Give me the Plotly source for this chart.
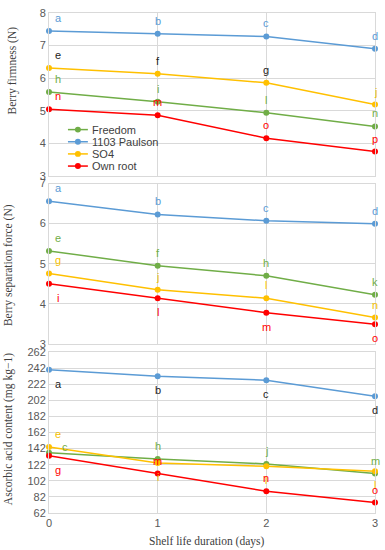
import plotly.graph_objects as go
from plotly.subplots import make_subplots

# ---------------- data ----------------
days = [0, 1, 2, 3]
series_names = ["Freedom", "1103 Paulson", "SO4", "Own root"]

# Panel 1: Berry firmness (N)
firm_freedom = [5.58, 5.28, 4.94, 4.52]
firm_paulson = [7.45, 7.36, 7.28, 6.90]
firm_so4 = [6.31, 6.14, 5.86, 5.19]
firm_own = [5.05, 4.86, 4.16, 3.75]
firm_lbl_freedom = ["h", "i", "l", "n"]
firm_lbl_paulson = ["a", "b", "c", "d"]
firm_lbl_so4 = ["e", "f", "g", "j"]
firm_lbl_own = ["n", "m", "o", "p"]

# Panel 2: Berry separation force (N)
sep_freedom = [5.32, 4.95, 4.70, 4.23]
sep_paulson = [6.56, 6.23, 6.07, 6.00]
sep_so4 = [4.76, 4.35, 4.14, 3.66]
sep_own = [4.50, 4.14, 3.78, 3.49]
sep_lbl_freedom = ["e", "f", "h", "k"]
sep_lbl_paulson = ["a", "b", "c", "d"]
sep_lbl_so4 = ["g", "j", "l", "n"]
sep_lbl_own = ["i", "l", "m", "o"]

# Panel 3: Ascorbic acid content (mg kg-1)
asc_freedom = [137, 129, 123, 111]
asc_paulson = [240, 232, 227, 207]
asc_so4 = [144, 124, 120, 114]
asc_own = [133, 111, 89, 75]
asc_lbl_freedom = ["c", "h", "j", "m"]
asc_lbl_paulson = ["a", "b", "c", "d"]
asc_lbl_so4 = ["e", "i", "l", "l"]
asc_lbl_own = ["g", "m", "n", "o"]

x_ticks = [0, 1, 2, 3]
firm_ticks = [3, 4, 5, 6, 7, 8]
sep_ticks = [3, 4, 5, 6, 7]
asc_ticks = [62, 82, 102, 122, 142, 162, 182, 202, 222, 242, 262]

# ---------------- style ----------------
COL = {"Freedom": "#70AD47", "1103 Paulson": "#5B9BD5", "SO4": "#FFC000", "Own root": "#FF0000"}
LABEL_COL = {"Freedom": "#70AD47", "1103 Paulson": "#5B9BD5", "SO4": "#F5C000", "Own root": "#FF0000"}
SANS = "Liberation Sans"
SERIF = "Liberation Serif"
GRID = "#D9D9D9"

panels = [
    {
        "vals": {"Freedom": firm_freedom, "1103 Paulson": firm_paulson, "SO4": firm_so4, "Own root": firm_own},
        "lbls": {"Freedom": firm_lbl_freedom, "1103 Paulson": firm_lbl_paulson, "SO4": firm_lbl_so4, "Own root": firm_lbl_own},
        "pos": {"Freedom": ["u", "u", "u", "u"], "1103 Paulson": ["u", "u", "u", "u"],
                "SO4": ["u", "u", "u", "u"], "Own root": ["u", "u", "u", "u"]},
        "colors": {"SO4": ["#222222", "#222222", "#222222", LABEL_COL["SO4"]]},
        "range": [3, 8], "ticks": firm_ticks,
    },
    {
        "vals": {"Freedom": sep_freedom, "1103 Paulson": sep_paulson, "SO4": sep_so4, "Own root": sep_own},
        "lbls": {"Freedom": sep_lbl_freedom, "1103 Paulson": sep_lbl_paulson, "SO4": sep_lbl_so4, "Own root": sep_lbl_own},
        "pos": {"Freedom": ["u", "u", "u", "u"], "1103 Paulson": ["u", "u", "u", "u"],
                "SO4": ["u", "u", "u", "u"], "Own root": ["d", "d", "d", "d"]},
        "colors": {},
        "range": [3, 7], "ticks": sep_ticks,
    },
    {
        "vals": {"Freedom": asc_freedom, "1103 Paulson": asc_paulson, "SO4": asc_so4, "Own root": asc_own},
        "lbls": {"Freedom": asc_lbl_freedom, "1103 Paulson": asc_lbl_paulson, "SO4": asc_lbl_so4, "Own root": asc_lbl_own},
        "pos": {"Freedom": ["s", "u", "u", "u"], "1103 Paulson": ["d", "d", "d", "d"],
                "SO4": ["u", "d", "d", "d"], "Own root": ["d", "u", "u", "u"]},
        "colors": {"1103 Paulson": ["#222222"] * 4},
        "range": [62, 262], "ticks": asc_ticks,
    },
]

domains = [[0.674, 1.0], [0.338, 0.659], [0.0, 0.322]]

fig = make_subplots(rows=3, cols=1, shared_xaxes=True, vertical_spacing=0.02)

annotations = []
for r, p in enumerate(panels, start=1):
    for name in series_names:
        ys = p["vals"][name]
        fig.add_trace(go.Scatter(
            x=days, y=ys, mode="lines+markers", name=name, showlegend=False,
            line=dict(color=COL[name], width=1.5),
            marker=dict(color=COL[name], size=6),
            cliponaxis=False, hoverinfo="skip",
        ), row=r, col=1)
        cols = p["colors"].get(name, [LABEL_COL[name]] * 4)
        xref = "x" if r == 1 else f"x{r}"
        yref = "y" if r == 1 else f"y{r}"
        for i, (xv, yv, t) in enumerate(zip(days, ys, p["lbls"][name])):
            pos = p["pos"][name][i]
            ysh = {"u": 13, "d": -14, "s": 6}[pos]
            xsh = 9 if i == 0 else 0
            if pos == "s":
                xsh = 16
            annotations.append(dict(
                x=xv, y=yv, xref=xref, yref=yref, text=t, showarrow=False,
                yshift=ysh, xshift=xsh,
                font=dict(family=SANS, size=11, color=cols[i]),
            ))

    ax = dict(range=[0, 3], tickvals=x_ticks, showgrid=True, gridcolor=GRID, gridwidth=1,
              zeroline=False, showline=True, linecolor=GRID, mirror=True,
              tickfont=dict(family=SANS, size=11, color="#595959"), ticks="")
    fig.update_xaxes(**ax, showticklabels=(r == 3), row=r, col=1)
    fig.update_yaxes(range=p["range"], tickvals=p["ticks"], showgrid=True, gridcolor=GRID,
                     zeroline=False, showline=True, linecolor=GRID, mirror=True, ticks="",
                     tickfont=dict(family=SANS, size=11, color="#595959"),
                     domain=domains[r - 1], row=r, col=1)

# axis titles
W, L = 327.0, 49.0
H, T = 506.0, 7.0


def px2paper(px, py):
    return (px - L) / W, (T + H - py) / H


for txt, px, py in [("Berry firmness (N)", 12, 65),
                    ("Berry separation force (N)", 9, 262),
                    ("Ascorbic acid content (mg kg−1)", 8, 428)]:
    xp, yp = px2paper(px, py)
    annotations.append(dict(x=xp, y=yp, xref="paper", yref="paper", text=txt, textangle=-90,
                            showarrow=False, xanchor="center", yanchor="middle",
                            font=dict(family=SERIF, size=11.5, color="#404040")))

xp, yp = px2paper(207, 542)
annotations.append(dict(x=xp, y=yp, xref="paper", yref="paper", text="Shelf life duration (days)",
                        showarrow=False, xanchor="center", yanchor="middle",
                        font=dict(family=SERIF, size=11.5, color="#404040")))

# compact legend (drawn inside first panel)
shapes = []
for k, name in enumerate(series_names):
    py = 125 + k * 12.3
    x0, y0 = px2paper(68, py)
    x1, _ = px2paper(88, py)
    xm, _ = px2paper(78, py)
    shapes.append(dict(type="line", xref="paper", yref="paper", x0=x0, x1=x1, y0=y0, y1=y0,
                       line=dict(color=COL[name], width=1.5)))
    r = 3.0
    shapes.append(dict(type="circle", xref="paper", yref="paper",
                       x0=xm - r / W, x1=xm + r / W, y0=y0 - r / H, y1=y0 + r / H,
                       fillcolor=COL[name], line=dict(color=COL[name], width=0)))
    xt, _ = px2paper(90, py)
    annotations.append(dict(x=xt, y=y0, xref="paper", yref="paper", text=name, showarrow=False,
                            xanchor="left", yanchor="middle",
                            font=dict(family=SANS, size=11, color="#404040")))

fig.update_layout(
    width=385, height=550,
    margin=dict(l=49, r=9, t=7, b=37),
    paper_bgcolor="white", plot_bgcolor="white",
    showlegend=False, hovermode=False,
    annotations=annotations, shapes=shapes,
)

fig.write_html(
    "out.html",
    config={"displayModeBar": False, "staticPlot": True},
    post_script="document.body.style.margin='0px';document.body.style.overflow='hidden';",
)
